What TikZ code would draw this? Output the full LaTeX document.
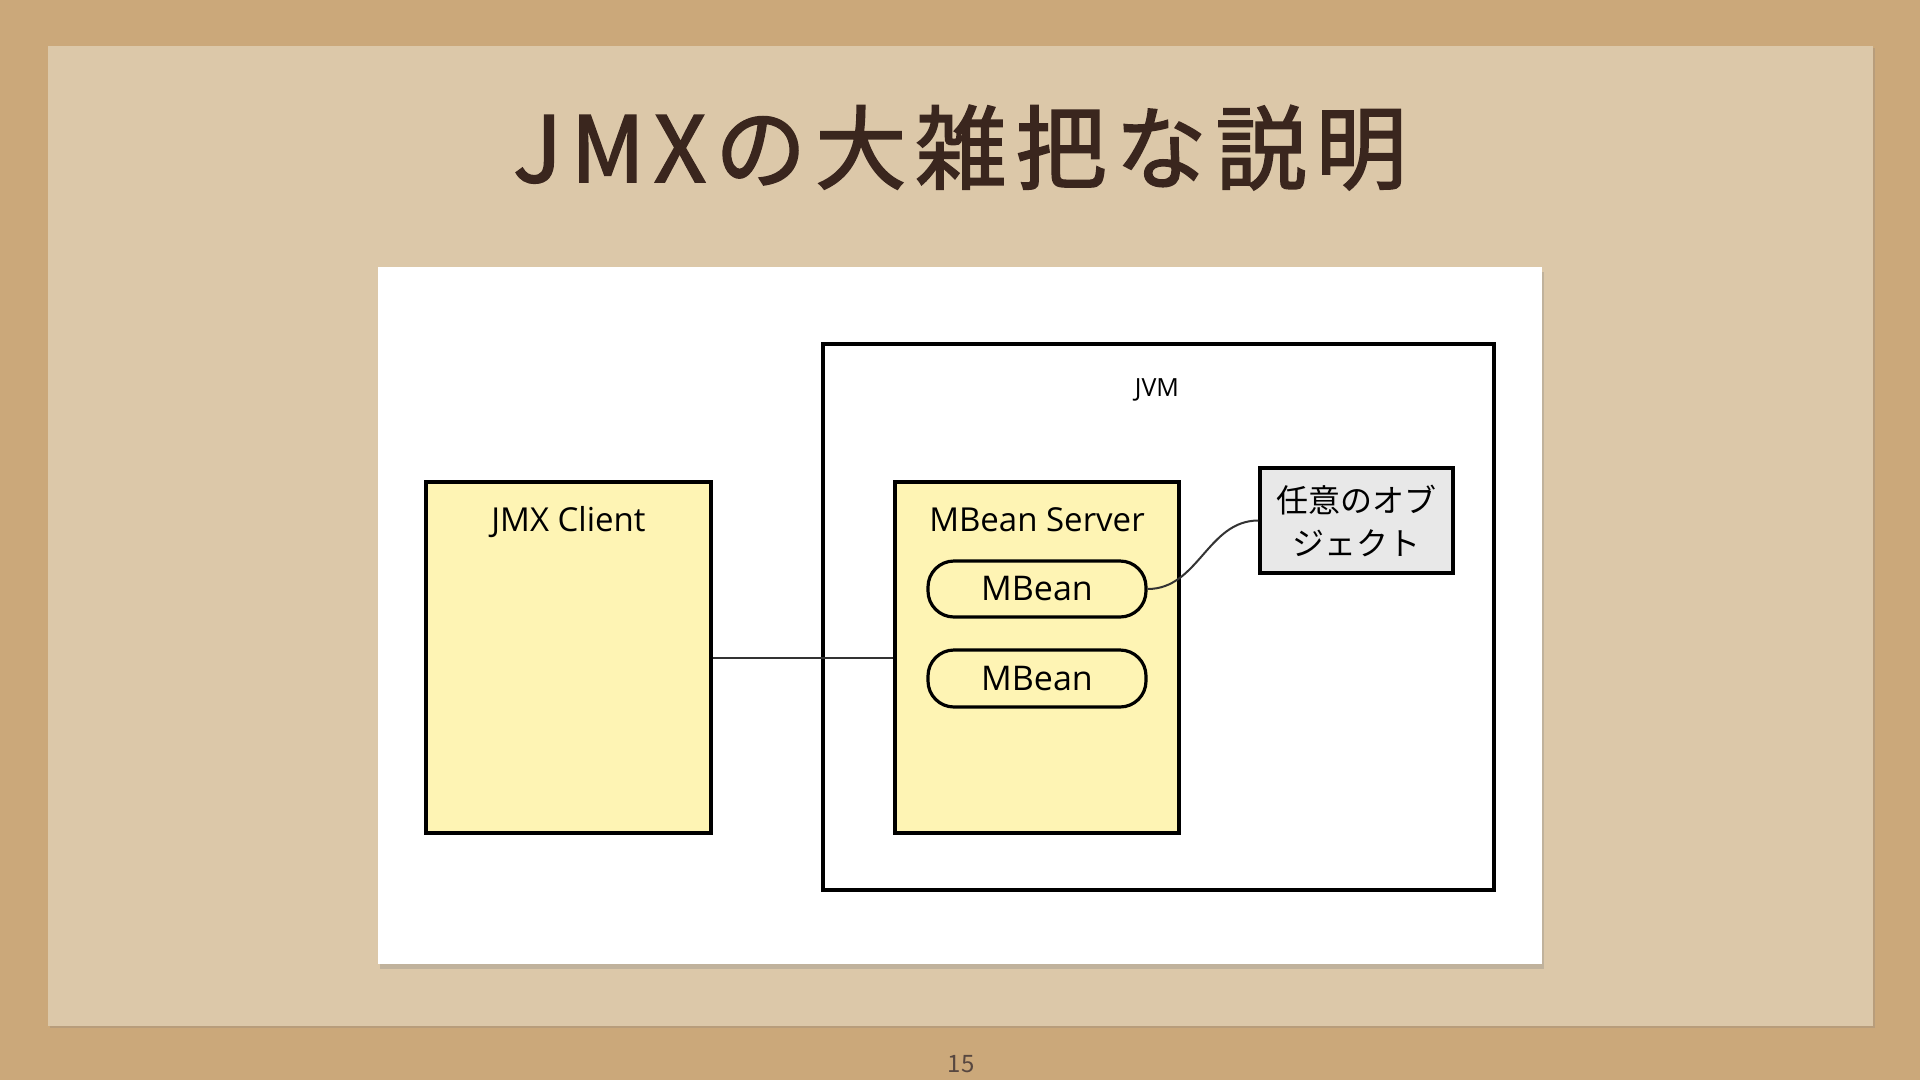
\documentclass[tikz,border=0pt]{standalone}
\usepackage{fontspec}
\setmainfont{Open Sans}
\newfontfamily\jpfont{Noto Sans CJK JP}
\newfontfamily\titlefont[LetterSpace=10,FakeBold=2]{Noto Sans CJK JP}
\newfontfamily\pagefont{Noto Sans CJK JP}
\usepackage{xcolor}
\usepackage{tikz}
\usetikzlibrary{positioning,fit,shadows,calc}

\definecolor{cork}{RGB}{203,168,122}
\definecolor{paper}{RGB}{220,200,169}
\definecolor{inkbrown}{RGB}{58,38,30}
\definecolor{umlyellow}{RGB}{254,244,180}
\definecolor{objgray}{RGB}{232,232,232}

\begin{document}
\begin{tikzpicture}[x=1pt,y=-1pt,wire/.style={line width=2pt,black!80}]
	\tikzset{box/.style={draw,rectangle,inner sep=0pt,line width=3.2pt}}
	\tikzset{lbl/.style={anchor=base,inner sep=0pt,font=\fontsize{33}{40}\selectfont}}

	\useasboundingbox (0,0) rectangle (1920,1080);
	\fill[cork] (0,0) rectangle (1920,1080);

	% sheet and title
	\node[fit={(48,46) (1873,1026)}, inner sep=0pt, fill=paper, drop shadow={shadow xshift=2pt,shadow yshift=-2pt,opacity=0.25}] (sheet) {};
	\node[anchor=base, inner sep=0pt, text=inkbrown, font=\titlefont\fontsize{91}{100}\selectfont] (title) at (960,182) {JMXの大雑把な説明};
	\node[fit={(378,267) (1542,964)}, inner sep=0pt, fill=white, drop shadow={shadow xshift=2pt,shadow yshift=-5pt,opacity=0.3}] (panel) {};

	% diagram
	\node[fit={(823,344) (1494,890)}, box] (jvm) {};
	\node[lbl, font=\fontsize{25}{30}\selectfont] (jvmtxt) at (1157,396) {JVM};

	\node[fit={(426,482) (711,833)}, box, fill=umlyellow] (client) {};
	\node[lbl] (clienttxt) at (568.5,531) {JMX Client};

	\node[fit={(895,482) (1179,833)}, box, fill=umlyellow] (server) {};
	\node[lbl] (servertxt) at (1037,531) {MBean Server};

	\node[fit={(928,561) (1146,617)}, box, rounded corners=26pt, fill=umlyellow, label={[font=\fontsize{34}{40}\selectfont]center:MBean}] (mbeanA) {};
	\node[fit={(928,650) (1146,707)}, box, rounded corners=26pt, fill=umlyellow, label={[font=\fontsize{34}{40}\selectfont]center:MBean}] (mbeanB) {};

	\node[fit={(1260,468) (1453,573)}, box, fill=objgray, label={[align=center, font=\jpfont\fontsize{32}{43}\selectfont]center:任意のオブ\\ジェクト}] (obj) {};

	\draw[wire] (client) -- (server);
	\draw[wire] (mbeanA.east) to[out=0,in=180] (obj.west);

	\node[anchor=base, inner sep=0pt, text=inkbrown!85, font=\pagefont\fontsize{24}{28}\selectfont] (pageno) at (961,1072) {15};
\end{tikzpicture}
\end{document}
